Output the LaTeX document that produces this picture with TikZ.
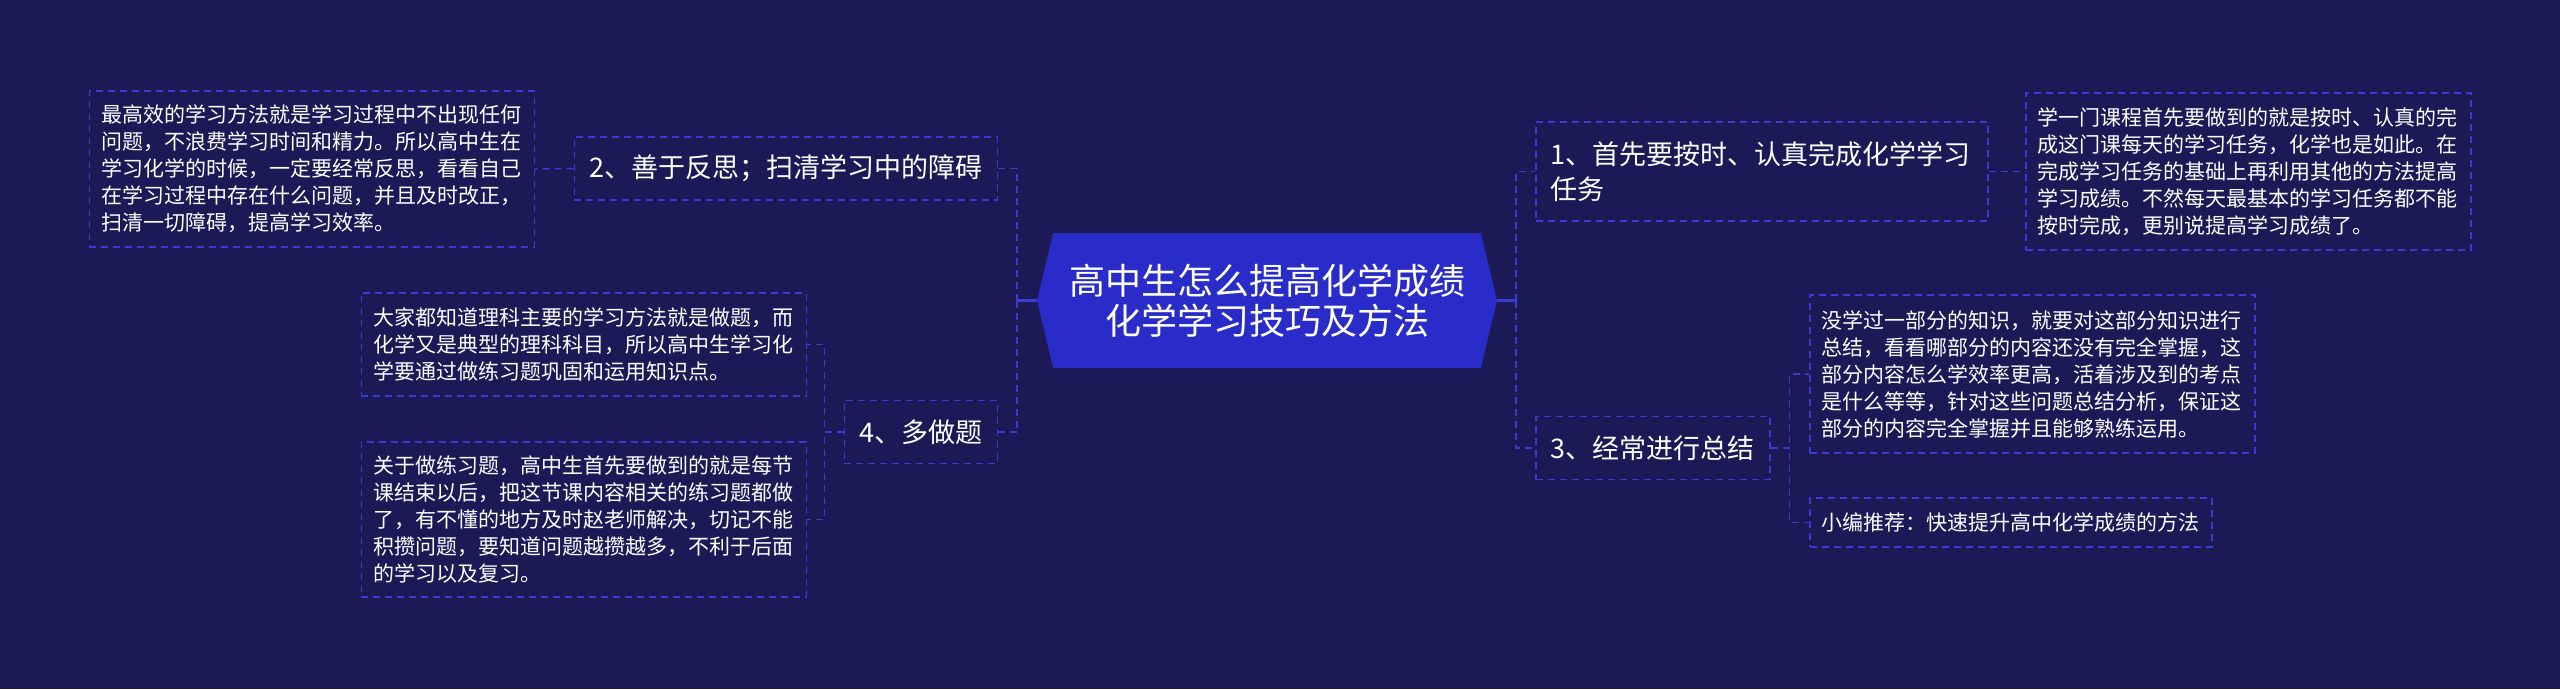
\documentclass[tikz,border=0pt]{standalone}
\usepackage{fontspec}
\setmainfont{Noto Sans CJK SC}
\usepackage{xcolor}
\usepackage{tikz}
\usetikzlibrary{shapes.symbols}
\definecolor{bgc}{HTML}{1B1A57}
\definecolor{hubc}{HTML}{292CC8}
\definecolor{lnc}{HTML}{383CD2}

\begin{document}
\begin{tikzpicture}[x=1pt,y=-1pt,
  hub/.style={signal,signal to=west and east,signal pointer angle=153,fill=hubc,text=white,
    minimum width=460pt,minimum height=135pt,inner sep=0pt,align=center,font=\fontsize{36}{40}\selectfont},
  box/.style={draw=lnc,line width=1.5pt,dash pattern=on 7pt off 5pt,text=white,align=left},
  br/.style={box,inner xsep=15pt,inner ysep=0pt,minimum height=63pt,font=\fontsize{27}{35}\selectfont},
  leaf/.style={box,inner xsep=12pt,inner ysep=0pt,font=\fontsize{21}{27}\selectfont},
  ln/.style={lnc,line width=1.5pt,dash pattern=on 7pt off 5pt},
  stem/.style={lnc,line width=3pt}]
 \fill[bgc] (0,0) rectangle (2560,689);
 \useasboundingbox (0,0) rectangle (2560,689);
 % centre
 \node[hub] (root) at (1267,300.5) {高中生怎么提高化学成绩\\化学学习技巧及方法};
 \coordinate (jl) at (1017,300.5);
 \coordinate (jr) at (1516,300.5);
 % branches
 \node[br,anchor=east] (n2) at (998,168.5) {2、善于反思；扫清学习中的障碍};
 \node[br,anchor=east] (n4) at (998,432) {4、多做题};
 \node[br,anchor=west,text width=422pt,minimum height=99pt] (n1) at (1535,171.5) {1、首先要按时、认真完成化学学习\\任务};
 \node[br,anchor=west] (n3) at (1535,448) {3、经常进行总结};
 % leaves
 \node[leaf,text width=421pt,minimum height=156pt,anchor=east] (l2) at (535,169) {最高效的学习方法就是学习过程中不出现任何\\问题，不浪费学习时间和精力。所以高中生在\\学习化学的时候，一定要经常反思，看看自己\\在学习过程中存在什么问题，并且及时改正，\\扫清一切障碍，提高学习效率。};
 \node[leaf,text width=421pt,minimum height=103pt,anchor=east] (l4a) at (807,344.5) {大家都知道理科主要的学习方法就是做题，而\\化学又是典型的理科科目，所以高中生学习化\\学要通过做练习题巩固和运用知识点。};
 \node[leaf,text width=421pt,minimum height=155pt,anchor=east] (l4b) at (807,519.5) {关于做练习题，高中生首先要做到的就是每节\\课结束以后，把这节课内容相关的练习题都做\\了，有不懂的地方及时赵老师解决，切记不能\\积攒问题，要知道问题越攒越多，不利于后面\\的学习以及复习。};
 \node[leaf,text width=421pt,minimum height=157pt,anchor=west] (r1) at (2025,171.5) {学一门课程首先要做到的就是按时、认真的完\\成这门课每天的学习任务，化学也是如此。在\\完成学习任务的基础上再利用其他的方法提高\\学习成绩。不然每天最基本的学习任务都不能\\按时完成，更别说提高学习成绩了。};
 \node[leaf,text width=421pt,minimum height=158pt,anchor=west] (r3a) at (1809,374) {没学过一部分的知识，就要对这部分知识进行\\总结，看看哪部分的内容还没有完全掌握，这\\部分内容怎么学效率更高，活着涉及到的考点\\是什么等等，针对这些问题总结分析，保证这\\部分的内容完全掌握并且能够熟练运用。};
 \node[leaf,minimum height=49pt,anchor=west] (r3b) at (1809,522.5) {小编推荐：快速提升高中化学成绩的方法};
 % links
 \draw[stem] (root.west) -- (jl);
 \draw[stem] (root.east) -- (jr);
 \draw[ln] (jl) |- (n2.east);
 \draw[ln] (jl) |- (n4.east);
 \draw[ln] (jr) |- (n1.west);
 \draw[ln] (jr) |- (n3.west);
 \draw[ln] (n2.west) -- (l2.east);
 \draw[ln] (n4.west) -- ++(-19,0) |- (l4a.east);
 \draw[ln] (n4.west) -- ++(-19,0) |- (l4b.east);
 \draw[ln] (n1.east) -- (r1.west);
 \draw[ln] (n3.east) -- ++(19,0) |- (r3a.west);
 \draw[ln] (n3.east) -- ++(19,0) |- (r3b.west);
\end{tikzpicture}
\end{document}
